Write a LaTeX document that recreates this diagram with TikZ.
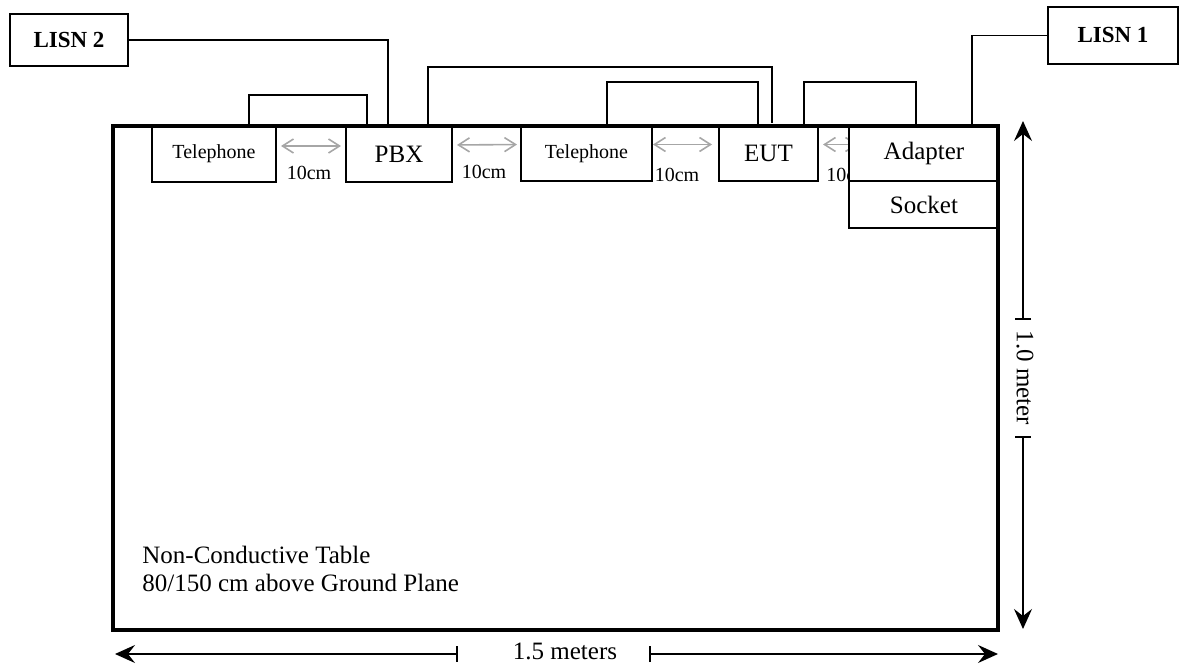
\documentclass[tikz,border=0pt]{standalone}
\usepackage{fontspec}
\setmainfont{Liberation Serif}
\usetikzlibrary{calc,arrows.meta}

\begin{document}
\begin{tikzpicture}[x=0.5pt,y=-0.5pt,
  unit/.style={draw,line width=0.8pt,fill=white,anchor=north west,inner sep=0pt,outer sep=0pt,
    minimum height=28pt,font=\fontsize{12.5}{14}\selectfont},
  phone/.style={unit,font=\fontsize{10}{12}\selectfont},
  lisn/.style={unit,font=\fontsize{11.5}{13}\selectfont\bfseries},
  wire/.style={line width=0.8pt},
  gap/.style={gray!70,line width=0.8pt,{Straight Barb[length=5.5pt,width=7pt]}-{Straight Barb[length=5.5pt,width=7pt]}},
  gaplabel/.style={inner sep=0pt,font=\fontsize{10}{12}\selectfont},
  dim/.style={line width=0.8pt}]
  \useasboundingbox (0,0) rectangle (1179,668);
  % Spacing arrows between the units
  \node[gaplabel] (d1) at (309,173) {10cm};
  \node[gaplabel] (d2) at (484,172) {10cm};
  \node[gaplabel] (d3) at (677,175) {10cm};
  \node[gaplabel,anchor=west] (d4) at (826,175) {10cm};
  % Units on the table edge
  \node[phone,minimum width=62pt] (tel1) at (152,126) {Telephone};
  \node[unit,minimum width=53pt] (pbx) at (346,126) {PBX};
  \node[phone,minimum width=65.5pt,minimum height=27.5pt] (tel2) at (521,126) {Telephone};
  \node[unit,minimum width=49.5pt,minimum height=27.5pt] (eut) at (719,126) {EUT};
  \draw[gap,shorten <=2.5pt,shorten >=2.5pt] ([yshift=4pt]tel1.east) -- ([yshift=4pt]pbx.west);
  \draw[gap,shorten <=2.5pt,shorten >=2pt] ([yshift=4.5pt]pbx.east) -- ([yshift=4.5pt]tel2.west);
  \draw[gap,shorten <=0.5pt,shorten >=3.5pt] ([yshift=4.5pt]tel2.east) -- ([yshift=4.5pt]eut.west);
  \draw[gap,shorten <=2.5pt] ([yshift=4.5pt]eut.east) -- ++(40,0);
  \node[unit,minimum width=75pt,minimum height=27.5pt] (adapter) at (849,126) {Adapter};
  \node[unit,minimum width=75pt,minimum height=23.5pt] (socket) at (849,181) {Socket};
  \node[lisn,minimum width=59pt,minimum height=26pt] (lisn2) at (10,14) {LISN 2};
  \node[lisn,minimum width=65pt,minimum height=28.5pt] (lisn1) at (1048,7) {LISN 1};
  % Table outline
  \node[draw,line width=2pt,anchor=north west,inner sep=0pt,outer sep=0pt,
    minimum width=442.5pt,minimum height=252pt] (table) at (113,126) {};
  \node[anchor=west,align=left,inner sep=0pt,font=\fontsize{12.5}{14}\selectfont] (note) at (142,569)
    {Non-Conductive Table\\80/150 cm above Ground Plane};
  % Cables
  \draw[wire] (lisn2.east) -| ($(pbx.north west)+(42,0)$);
  \draw[wire] ($(tel1.north west)+(97,0)$) -- ++(0,-31) -| ($(pbx.north west)+(21,0)$);
  \draw[wire] ($(pbx.north west)+(82,0)$) -- ++(0,-59) -| ($(eut.north west)+(53,-3)$);
  \draw[wire] ($(tel2.north west)+(86,0)$) -- ++(0,-44) -| ($(eut.north west)+(39,0)$);
  \draw[wire] ($(eut.north west)+(85,0)$) -- ++(0,-44) -| ($(adapter.north west)+(67,0)$);
  \draw[wire] (lisn1.west) -| ($(adapter.north west)+(123,0)$);
  % Table dimensions
  \coordinate (wl) at (115,654);
  \coordinate (wt1) at (458,654);
  \coordinate (wt2) at (649,654);
  \coordinate (wr) at (998,654);
  \node[inner sep=0pt,font=\fontsize{12.5}{14}\selectfont] (wlab) at (565,651) {1.5 meters};
  \draw[dim,{Stealth[length=10pt,width=9pt,inset=3.5pt]}-{Bar[width=8pt]}] (wl) -- (wt1);
  \draw[dim,{Bar[width=8pt]}-{Stealth[length=10pt,width=9pt,inset=3.5pt]}] (wt2) -- (wr);
  \coordinate (ht) at (1023,121);
  \coordinate (ht1) at (1023,320);
  \coordinate (ht2) at (1023,436);
  \coordinate (hb) at (1023,629);
  \node[inner sep=0pt,rotate=-90,font=\fontsize{12.5}{14}\selectfont] (hlab) at (1025,378) {1.0 meter};
  \draw[dim,{Stealth[length=10pt,width=9pt,inset=3.5pt]}-{Bar[width=8pt]}] (ht) -- (ht1);
  \draw[dim,{Bar[width=8pt]}-{Stealth[length=10pt,width=9pt,inset=3.5pt]}] (ht2) -- (hb);
\end{tikzpicture}
\end{document}
